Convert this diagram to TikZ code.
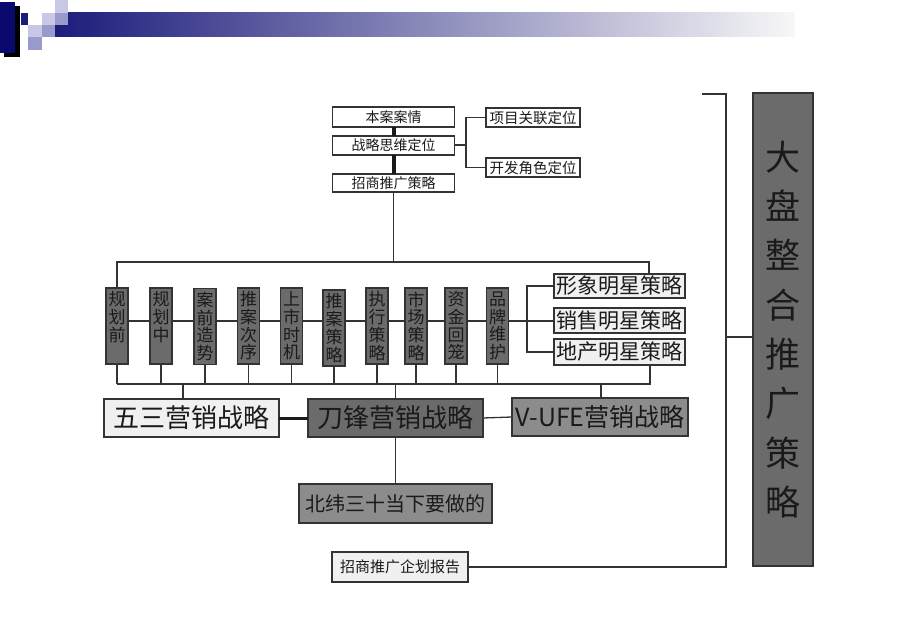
\documentclass[tikz,border=0pt]{standalone}
\usepackage{fontspec}
\newfontfamily\cjk{Noto Sans CJK SC}
\definecolor{navy}{HTML}{0A0A6E}
\definecolor{bandnavy}{HTML}{1C1C7C}
\definecolor{sqlight}{HTML}{C8C8E6}
\definecolor{sqmed}{HTML}{9999CC}
\definecolor{boxdark}{HTML}{6B6B6B}
\definecolor{boxmid}{HTML}{8C8C8C}
\definecolor{boxlight}{HTML}{F0F0F0}
\definecolor{edge}{HTML}{333333}
\definecolor{ink}{HTML}{1A1A1A}
\tikzset{
  x=1pt,y=1pt,
  every node/.style={font=\cjk, text=ink, inner sep=0pt, outer sep=0pt},
  boxbase/.style={draw=edge, line width=1.3pt},
  topbox/.style={boxbase, fill=white, minimum width=122pt, minimum height=19pt, font=\cjk\fontsize{14}{14}\selectfont},
  sidebox/.style={boxbase, fill=white, minimum width=94pt, minimum height=19pt, font=\cjk\fontsize{14.5}{14.5}\selectfont},
  vbox/.style={boxbase, fill=boxdark, minimum width=22pt, minimum height=76pt, align=center, font=\cjk\fontsize{17}{17.7}\selectfont},
  starbox/.style={boxbase, fill=boxlight, minimum width=131pt, font=\cjk\fontsize{21}{21}\selectfont},
  stratbox/.style={boxbase, minimum width=175pt, minimum height=38pt, font=\cjk\fontsize{26}{26}\selectfont},
  conn/.style={draw=edge, line width=1.3pt},
  thickconn/.style={draw=ink, line width=4pt},
}
\begin{document}
\begin{tikzpicture}
\useasboundingbox (0,0) rectangle (920,-636);
% header decoration
\fill[black] (4,-6) rectangle (20,-57);
\fill[navy] (0,-2) rectangle (15,-53);
\shade[left color=bandnavy, right color=white!94!gray] (55,-13) rectangle (795,-37);
\fill[bandnavy] (21,-13) rectangle (28,-25);
\fill[white] (28,-13) rectangle (42,-25);
\fill[sqlight] (42,-13) rectangle (55,-25);
\fill[sqmed] (55,-13) rectangle (68,-25);
\fill[sqlight] (55,0) rectangle (68,-13);
\fill[sqlight] (28,-25) rectangle (42,-37);
\fill[sqmed] (42,-25) rectangle (55,-37);
\fill[sqmed] (28,-37) rectangle (42,-50);

% top chain
\node[topbox, minimum height=20pt] (t1) at (393.5,-117) {本案案情};
\node[topbox] (t2) at (393.5,-145.5) {战略思维定位};
\node[topbox, minimum height=18pt] (t3) at (393.5,-183) {招商推广策略};
\node[sidebox] (s1) at (533,-117.5) {项目关联定位};
\node[sidebox] (s2) at (533,-167.5) {开发角色定位};
\draw[thickconn] (t1) -- (t2);
\draw[thickconn] (t2) -- (t3);
\coordinate (brA) at (466,-145);
\draw[conn] (t2.east |- brA) -- (brA);
\draw[conn] (s1.west) -| (brA) |- (s2.west);

% vertical boxes
\node[vbox] (b1) at (117,-326) {规\\划\\前\\\phantom{中}};
\node[vbox] (b2) at (161,-326) {规\\划\\中\\\phantom{中}};
\node[vbox] (b3) at (205,-326.5) {案\\前\\造\\势};
\node[vbox] (b4) at (248.5,-326) {推\\案\\次\\序};
\node[vbox] (b5) at (291.5,-326) {上\\市\\时\\机};
\node[vbox] (b6) at (334,-328) {推\\案\\策\\略};
\node[vbox] (b7) at (377,-326) {执\\行\\策\\略};
\node[vbox] (b8) at (416,-326) {市\\场\\策\\略};
\node[vbox] (b9) at (456,-326) {资\\金\\回\\笼};
\node[vbox] (b10) at (497.5,-326) {品\\牌\\维\\护};

% star boxes
\node[starbox, minimum height=24pt] (st1) at (619.5,-286) {形象明星策略};
\node[starbox, minimum height=25pt] (st2) at (619.5,-320.5) {销售明星策略};
\node[starbox, minimum height=26pt] (st3) at (619.5,-352) {地产明星策略};

% top bus
\coordinate (topbus) at (393.5,-262);
\draw[conn] (t3.south) -- (topbus);
\draw[conn] (b1.north) -- (b1.north |- topbus) -- (649,-262) -- (649,-274);

% middle chain
\coordinate (midy) at (0,-321);
\foreach \a/\b in {b1/b2,b2/b3,b3/b4,b4/b5,b5/b6,b6/b7,b7/b8,b8/b9,b9/b10}{
  \draw[conn] (\a.east |- midy) -- (\b.west |- midy);
}
\coordinate (brB) at (527,-321);
\draw[conn] (b10.east |- midy) -- (brB);
\draw[conn] (st1.west) -| (brB) |- (st3.west);
\draw[conn] (brB) -- (st2.west |- brB);

% bottom bus
\coordinate (botbus) at (0,-384);
\draw[conn] (b1.south |- botbus) -- (650,-384) -- (650,-365);
\foreach \n in {b1,b2,b3,b4,b5,b6,b7,b8,b9,b10}{
  \draw[conn] (\n.south) -- (\n.south |- botbus);
}

% strategy boxes
\node[stratbox, fill=boxlight] (w1) at (191.5,-418) {五三营销战略};
\node[stratbox, fill=boxdark] (w2) at (395.5,-418) {刀锋营销战略};
\node[stratbox, fill=boxmid, minimum width=176pt, font=\cjk\fontsize{25}{25}\selectfont] (w3) at (600,-417) {V-UFE营销战略};
\draw[conn] (183,-384) -- (w1.north -| 183,0);
\draw[conn] (w2.north |- botbus) -- (w2.north);
\draw[conn] (601,-384) -- (w3.north -| 601,0);
\draw[draw=ink, line width=3pt] (w1.east) -- (w2.west);
\draw[conn] (w2.east) -- (w3.west);

% below
\node[boxbase, fill=boxmid, minimum width=193pt, minimum height=39pt, font=\cjk\fontsize{20}{20}\selectfont] (nw) at (395.5,-503.5) {北纬三十当下要做的};
\draw[conn] (w2.south) -- (nw.north);
\node[boxbase, fill=boxlight, minimum width=136pt, minimum height=30pt, font=\cjk\fontsize{15}{15}\selectfont] (rp) at (400,-567) {招商推广企划报告};

% right big box
\node[boxbase, fill=boxdark, minimum width=60pt, minimum height=473pt, align=center, font=\cjk\fontsize{35}{49.3}\selectfont] (big) at (783,-329.5) {大\\盘\\整\\合\\推\\广\\策\\略};
\coordinate (rtop) at (702,-94);
\coordinate (rcol) at (726,-337);
\draw[conn] (rp.east) -| (rcol) |- (rtop);
\draw[conn] (rcol) -- (big.west |- rcol);
\end{tikzpicture}
\end{document}
